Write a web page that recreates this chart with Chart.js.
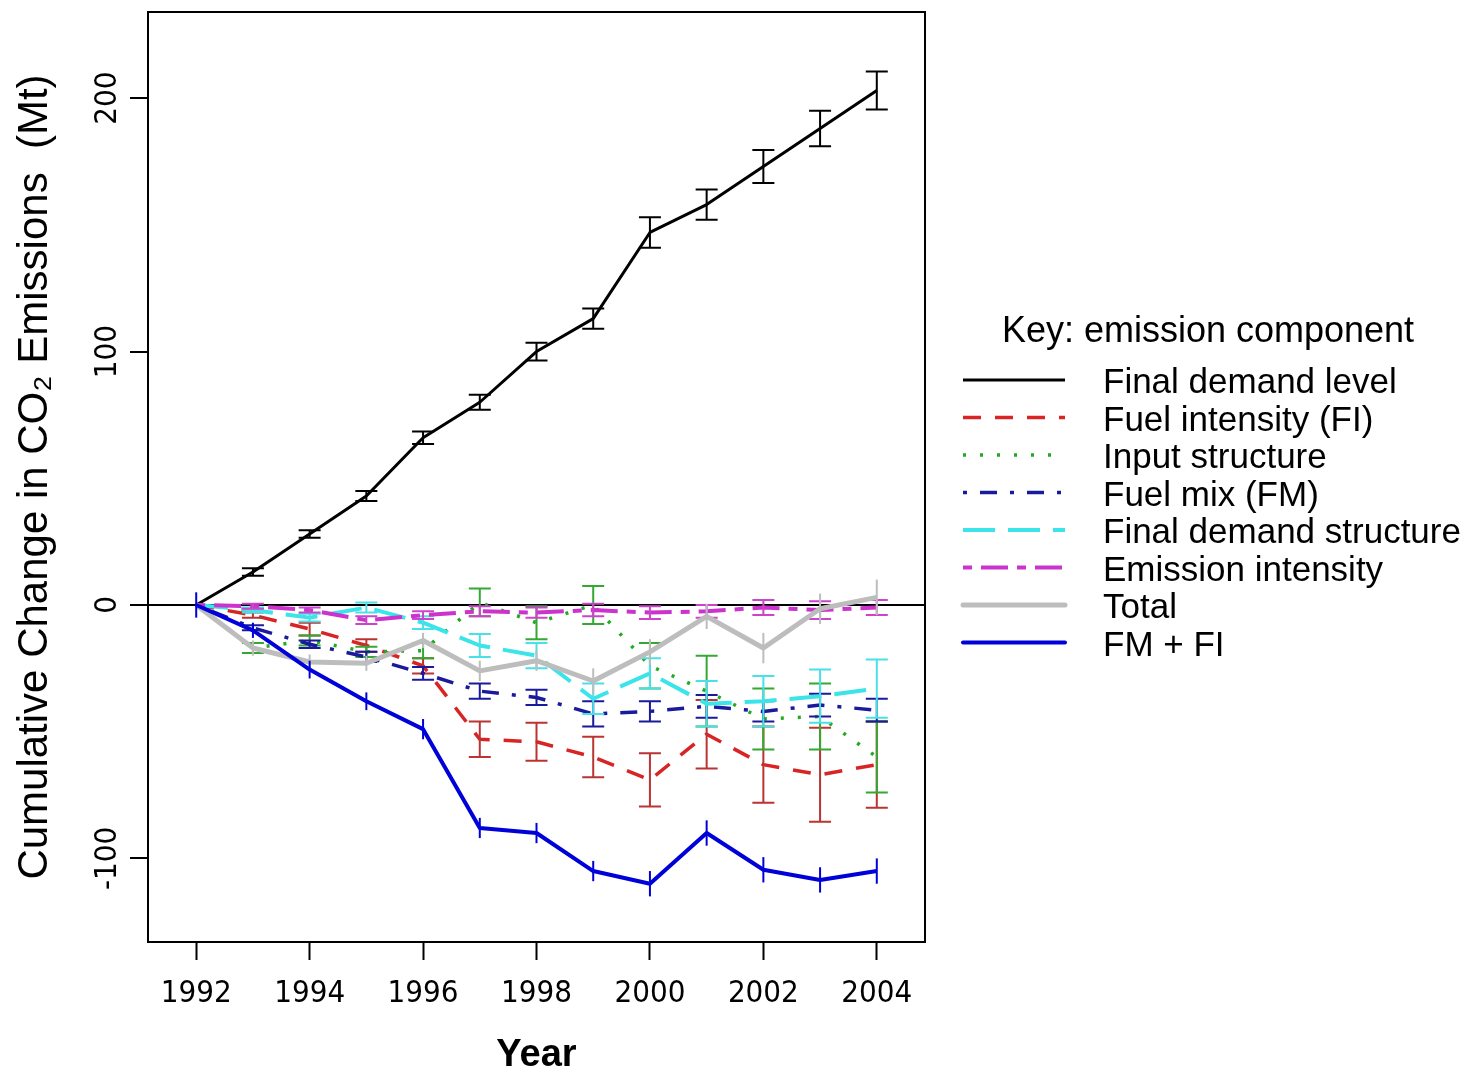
<!DOCTYPE html>
<html>
<head>
<meta charset="utf-8">
<script src="https://cdn.jsdelivr.net/npm/chart.js@4"></script>
<style>
  html, body { margin: 0; padding: 0; background: #ffffff; }
  canvas { display: block; }
</style>
</head>
<body>
<canvas id="c" width="1462" height="1075"></canvas>
<script>
// ---------- data ----------
const years = [1992, 1993, 1994, 1995, 1996, 1997, 1998, 1999, 2000, 2001, 2002, 2003, 2004];
const xTickValues = [1992, 1994, 1996, 1998, 2000, 2002, 2004];
const yTickValues = [-100, 0, 100, 200];

const seriesNames = ["Final demand level", "Fuel intensity (FI)", "Input structure", "Fuel mix (FM)",
                     "Final demand structure", "Emission intensity", "Total", "FM + FI"];

const finalDemandLevel      = [0, 13, 28, 43, 66, 80, 100, 113, 147, 158, 173, 188, 203];
const finalDemandLevelErr   = [0, 1.5, 1.5, 2, 2.5, 3, 3.5, 4, 6, 6, 6.5, 7, 7.5];

const fuelIntensity         = [0, -4, -9.5, -16, -24, -53, -54, -60, -69, -51, -63, -67, -63];
const fuelIntensityErr      = [0, 1, 2.5, 2.5, 3, 7, 7.5, 8, 10.5, 13.5, 15, 18.5, 17];

const inputStructure        = [0, -17, -14, -18.5, -18, 1, -7, 0, -24, -34, -45, -44, -60];
const inputStructureErr     = [0, 2, 2, 2, 3, 5.5, 6.5, 7.5, 9, 14, 12, 13, 14];

const fuelMix               = [0, -9, -15.5, -20.5, -27, -34, -36.5, -43, -42, -40, -42, -39.5, -41.5];
const fuelMixErr            = [0, 1, 1.5, 2, 2.5, 3, 3, 5, 4, 4.5, 4, 4.5, 4.5];

const finalDemandStructure    = [0, -2, -5, -1, -7, -16, -20, -37, -27, -39, -38, -36, -33];
const finalDemandStructureErr = [0, 1, 1.5, 2, 2.5, 4.5, 5, 6, 6, 9, 10, 10.5, 11.5];

const emissionIntensity     = [0, -0.5, -2, -6, -4, -2.5, -3, -2, -3, -2.5, -1, -2, -1];
const emissionIntensityErr  = [0, 1, 1, 1.5, 1.5, 2, 2, 2.5, 2.5, 2.5, 3, 3.5, 3];

const total                 = [0, -17, -22.5, -23, -14, -26, -22, -30, -18.5, -4.5, -17, -1.5, 3];
const totalErr              = [0, 3, 3, 3, 3, 4, 4, 5, 5, 5, 6, 6, 7];

const fmPlusFi              = [0, -10, -25.5, -38, -49, -88, -90, -105, -110, -90, -104.5, -108.5, -105];
const fmPlusFiErr           = [5, 3, 3.5, 3.5, 4, 4, 4, 4, 5, 5, 5, 5, 5];

// ---------- styles ----------
const seriesValues = [finalDemandLevel, fuelIntensity, inputStructure, fuelMix,
                      finalDemandStructure, emissionIntensity, total, fmPlusFi];
const seriesErrors = [finalDemandLevelErr, fuelIntensityErr, inputStructureErr, fuelMixErr,
                      finalDemandStructureErr, emissionIntensityErr, totalErr, fmPlusFiErr];
const seriesColors = ["#000000", "#d82424", "#22aa22", "#1a1a9c", "#3ae4e8", "#cc33cc", "#bdbdbd", "#0000d8"];
const errColors    = ["#000000", "#bb3333", "#33a833", "#1a1a9c", "#4ae0e8", "#cc44cc", "#bdbdbd", "#0000d8"];
const seriesDash   = [[], [18, 14], [3, 14], [4, 13, 17, 13], [32, 13], [9, 9, 27, 9], [], []];
const seriesWidth  = [3, 3.5, 3.5, 3.5, 4, 4, 5, 4];
const seriesCaps   = [true, true, true, true, true, true, false, false];

const FONT = "'Liberation Sans', Arial, sans-serif";
const NARROW = "'Liberation Sans Narrow', 'DejaVu Sans Condensed', 'Arial Narrow', sans-serif";

const datasets = seriesNames.map((name, i) => ({
  label: name,
  data: years.map((yr, k) => ({ x: yr, y: seriesValues[i][k] })),
  borderColor: seriesColors[i],
  backgroundColor: seriesColors[i],
  borderWidth: seriesWidth[i],
  borderDash: seriesDash[i],
  borderCapStyle: 'butt',
  borderJoinStyle: 'round',
  pointRadius: 0,
  pointHoverRadius: 0,
  tension: 0,
  fill: false,
  order: seriesNames.length - i,
  errIndex: i
}));

// error bars, drawn right after each dataset's line
const errorBarPlugin = {
  id: 'errorBars',
  afterDatasetDraw(chart, args) {
    const ds = chart.data.datasets[args.index];
    const i = ds.errIndex;
    const xs = chart.scales.x, ys = chart.scales.y;
    const ctx = chart.ctx;
    const area = chart.chartArea;
    ctx.save();
    ctx.beginPath();
    ctx.rect(area.left, area.top, area.right - area.left, area.bottom - area.top);
    ctx.clip();
    ctx.setLineDash([]);
    ctx.strokeStyle = errColors[i];
    ctx.lineWidth = 2;
    ctx.lineCap = 'butt';
    years.forEach((yr, k) => {
      const e = seriesErrors[i][k];
      if (!e) return;
      const v = seriesValues[i][k];
      const px = xs.getPixelForValue(yr);
      const top = ys.getPixelForValue(v + e);
      const bot = ys.getPixelForValue(v - e);
      ctx.beginPath();
      ctx.moveTo(px, top); ctx.lineTo(px, bot);
      if (seriesCaps[i]) {
        ctx.moveTo(px - 11, top); ctx.lineTo(px + 11, top);
        ctx.moveTo(px - 11, bot); ctx.lineTo(px + 11, bot);
      }
      ctx.stroke();
    });
    ctx.restore();
  }
};

// plot box + key
const boxAndKeyPlugin = {
  id: 'boxAndKey',
  afterDraw(chart) {
    const ctx = chart.ctx;
    const a = chart.chartArea;
    ctx.save();
    ctx.setLineDash([]);
    ctx.strokeStyle = '#000';
    ctx.lineWidth = 2;
    ctx.strokeRect(a.left, a.top, a.right - a.left, a.bottom - a.top);

    // key
    ctx.fillStyle = '#000';
    ctx.font = "36px " + FONT;
    ctx.textAlign = 'center';
    ctx.textBaseline = 'alphabetic';
    ctx.fillText('Key: emission component', 1208, 342);
    ctx.font = "35px " + FONT;
    ctx.textAlign = 'left';
    seriesNames.forEach((name, i) => {
      const base = 393 + i * 37.5;
      const ly = base - 13;
      ctx.beginPath();
      ctx.setLineDash(seriesDash[i]);
      ctx.strokeStyle = seriesColors[i];
      ctx.lineWidth = seriesWidth[i];
      ctx.lineCap = (i === 6 || i === 7) ? 'round' : 'butt';
      ctx.moveTo(963, ly);
      ctx.lineTo(1065, ly);
      ctx.stroke();
      ctx.setLineDash([]);
      ctx.fillStyle = '#000';
      ctx.fillText(name, 1103, base);
    });
    ctx.restore();
  }
};

new Chart(document.getElementById('c'), {
  type: 'line',
  data: { datasets },
  plugins: [errorBarPlugin, boxAndKeyPlugin],
  options: {
    responsive: false,
    animation: false,
    events: [],
    layout: { padding: { left: 0, top: 12, right: 537, bottom: 0 } },
    plugins: { legend: { display: false }, tooltip: { enabled: false } },
    scales: {
      x: {
        type: 'linear',
        min: 1991.15,
        max: 2004.85,
        afterBuildTicks(scale) { scale.ticks = xTickValues.map(v => ({ value: v })); },
        afterFit(scale) { scale.height = 133; scale.paddingLeft = 0; scale.paddingRight = 0; },
        grid: { drawOnChartArea: false, drawTicks: true, tickLength: 18, tickColor: '#000', tickWidth: 2 },
        border: { display: true, color: '#000', width: 2 },
        ticks: {
          color: '#000',
          font: { family: NARROW, size: 31 },
          padding: 15,
          maxRotation: 0,
          autoSkip: false,
          callback: v => String(v)
        },
        title: {
          display: true,
          text: 'Year',
          color: '#000',
          font: { family: FONT, size: 38, weight: 'bold', lineHeight: 1 },
          padding: { top: 0, bottom: 0 }
        }
      },
      y: {
        type: 'linear',
        min: -133,
        max: 234,
        afterBuildTicks(scale) { scale.ticks = yTickValues.map(v => ({ value: v })); },
        afterFit(scale) { scale.width = 148; scale.paddingTop = 0; scale.paddingBottom = 0; },
        grid: {
          drawOnChartArea: true,
          drawTicks: true,
          tickLength: 18,
          tickColor: '#000',
          tickWidth: 2,
          lineWidth: 2,
          color: c => (c.tick && c.tick.value === 0) ? '#000' : 'rgba(0,0,0,0)'
        },
        border: { display: true, color: '#000', width: 2 },
        ticks: {
          color: '#000',
          font: { family: NARROW, size: 31 },
          padding: -10,
          minRotation: 90,
          maxRotation: 90,
          crossAlign: 'center',
          autoSkip: false,
          callback: v => String(v)
        },
        title: {
          display: true,
          text: 'Cumulative Change in CO\u2082 Emissions  (Mt)',
          color: '#000',
          font: { family: FONT, size: 42, lineHeight: 1 },
          padding: { top: 14, bottom: 0 }
        }
      }
    }
  }
});
</script>
</body>
</html>
